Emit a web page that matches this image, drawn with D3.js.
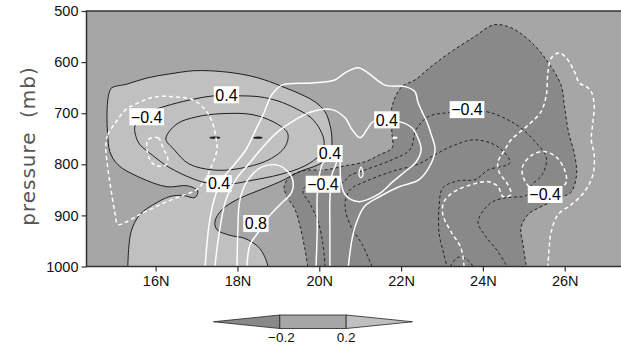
<!DOCTYPE html>
<html>
<head>
<meta charset="utf-8">
<script src="https://cdn.jsdelivr.net/npm/d3@7"></script>
<style>
  body { margin: 0; background: #fff; }
  svg { display: block; }
</style>
</head>
<body>
<div id="chart"></div>
<script>
// axis ticks
var xTicks = [16, 18, 20, 22, 24, 26];
var yTicks = [500, 600, 700, 800, 900, 1000];
var legendLevels = [-0.2, 0.2];
var shadeColors = ["#898989", "#a6a6a6", "#c0c0c0"];

// shaded > 0.2 (outline, bottom edge sits on 1000 mb)
var lightRegion = [[15.32,1000],[15.40,932],[15.62,898],[16.03,875],[16.35,863],[16.67,861],[16.96,865],[17.03,852],
  [16.77,842],[16.28,844],[15.62,826],[15.08,801],[14.88,775],[14.83,742],[14.81,713],[14.83,674],[14.88,656],
  [14.93,650],[15.30,643],[15.79,631],[16.35,623],[16.91,617],[17.33,617],[17.89,621],[18.31,627],[18.67,635],
  [19.16,650],[19.58,664],[19.90,678],[20.14,697],[20.26,723],[20.31,752],[20.26,785],[19.97,801],[19.53,814],
  [19.04,834],[18.43,854],[17.99,869],[17.62,889],[17.45,912],[17.50,928],[17.82,939],[18.18,945],[18.50,961],
  [18.65,978],[18.75,1000]];

// shaded < -0.2
var darkRegion = [[19.72,1000],[19.65,967],[19.55,928],[19.41,889],[19.21,863],[19.14,844],[19.28,824],[19.65,812],
  [20.14,811],[20.63,803],[21.12,795],[21.48,781],[21.78,768],[21.78,742],[21.75,703],[21.83,674],[22.02,648],
  [22.34,635],[22.73,609],[23.22,580],[23.78,551],[24.27,527],[24.69,533],[25.18,561],[25.59,600],[25.91,645],
  [25.99,684],[26.09,736],[26.24,781],[26.29,820],[26.16,854],[25.96,863],[25.42,883],[25.11,898],[24.93,924],
  [24.98,957],[25.06,1000]];

// black contours
var pos04 = [[15.52,746],[15.49,727],[15.62,709],[15.86,697],[16.25,686],[16.84,674],[17.43,666],[18.06,666],
  [18.55,668],[18.99,676],[19.43,691],[19.80,709],[20.02,732],[20.12,758],[20.02,781],[19.65,803],[19.04,820],
  [18.31,832],[17.87,838],[17.23,836],[16.84,826],[16.35,807],[16.06,791],[15.81,775],[15.62,762]];
var pos06 = [[16.25,750],[16.52,721],[17.01,707],[17.60,701],[18.38,703],[18.97,721],[19.23,740],[19.16,766],
  [18.77,791],[17.99,809],[17.40,811],[16.81,799],[16.45,771]];
var pos08a = [[17.33,748],[17.45,747],[17.57,748],[17.45,749]];
var pos08b = [[18.40,748],[18.50,747],[18.60,748],[18.50,749]];
var neg04 = [[20.14,1000],[20.09,957],[19.97,912],[19.77,877],[19.60,854],[19.68,842],[20.53,838],[20.75,822],
  [21.12,811],[21.78,791],[22.22,771],[22.37,732],[22.66,707],[23.15,699],[24.08,697],[24.61,713],[24.93,729],
  [25.28,756],[25.55,787],[25.45,820],[25.15,844],[25.06,861],[24.61,865],[24.20,875],[23.88,912],[24.03,937],
  [24.37,971],[24.59,1000]];
var neg06 = [[21.29,1000],[21.05,957],[20.75,918],[20.63,879],[20.75,850],[21.12,834],[21.78,814],[22.44,799],
  [22.83,781],[23.32,762],[23.81,752],[24.37,766],[24.66,797],[24.13,811],[23.81,830],[23.42,832],[23.02,846],
  [22.93,883],[22.93,936],[23.05,977],[23.12,1000]];
var neg08 = [[23.20,1000],[23.39,982],[23.61,986],[23.76,1000]];

// white contours
var whiteOuter = [[17.21,1000],[17.30,922],[17.43,869],[17.62,830],[17.92,801],[18.21,771],[18.45,732],[18.65,699],
  [18.84,664],[19.09,645],[19.82,641],[20.38,635],[20.63,621],[20.95,611],[21.19,621],[21.61,645],[22.10,648],
  [22.34,658],[22.41,678],[22.51,697],[22.63,717],[22.73,740],[22.83,771],[22.73,799],[22.44,830],[21.95,844],
  [21.48,863],[21.10,883],[20.90,916],[20.80,947],[20.71,1000]];
var whiteInner = [[17.45,1000],[17.55,936],[17.72,869],[17.96,830],[18.26,801],[18.60,768],[18.99,736],[19.41,713],
  [19.82,697],[20.31,693],[20.63,709],[20.80,732],[21.00,748],[21.19,729],[21.31,717],[21.97,717],[22.27,729],
  [22.41,748],[22.49,771],[22.37,795],[22.10,814],[21.80,834],[21.44,859],[20.95,873],[20.63,859],[20.53,834],
  [20.51,795]];
var whiteNarrow = [[19.92,1000],[19.95,928],[19.95,859],[20.02,814],[20.12,795],[20.41,795],[20.31,820],
  [20.26,869],[20.26,928],[20.26,1000]];
var white08 = [[17.99,1000],[18.01,928],[18.06,869],[18.26,830],[18.60,805],[19.04,803],[19.33,826],[19.33,854],
  [19.04,879],[18.75,904],[18.50,934],[18.31,957],[18.23,1000]];
var whiteDrop = [[21.02,805],[21.07,820],[21.02,826],[20.97,820]];
var whiteDash = [[21.80,748],[21.85,747],[21.90,748],[21.85,749]];
var whiteNegWest = [[14.78,766],[14.83,742],[14.98,723],[15.27,693],[15.62,678],[15.98,668],[16.47,668],[16.91,674],
  [17.21,693],[17.38,717],[17.47,746],[17.50,771],[17.38,801],[17.21,830],[16.99,850],[16.59,863],[16.11,879],
  [15.62,898],[15.25,914],[15.08,918],[15.00,893],[14.91,850],[14.83,807]];
var whiteNegWestIn = [[15.81,752],[16.06,748],[16.18,768],[16.30,791],[16.25,801],[16.01,803],[15.86,791],[15.79,771]];
var whiteNegEast = [[23.54,1000],[23.46,963],[23.22,932],[23.02,898],[23.05,873],[23.29,854],[23.71,840],[24.13,834],
  [24.37,844],[24.49,863],[24.69,859],[24.61,840],[24.39,814],[24.37,795],[24.54,771],[24.69,752],[25.11,723],
  [25.42,697],[25.55,664],[25.59,619],[25.67,592],[25.86,582],[26.04,592],[26.24,619],[26.36,641],[26.53,648],
  [26.65,658],[26.72,684],[26.69,717],[26.65,752],[26.72,781],[26.69,820],[26.48,854],[26.16,879],[25.84,898],
  [25.67,932],[25.62,963],[25.59,1000]];
var whiteNegEastSmall = [[25.13,844],[25.01,830],[24.96,807],[25.18,783],[25.49,775],[25.81,787],[26.01,814],
  [26.04,834],[25.94,846]];

// contour labels: lat, pressure, text
var contourLabels = [
  [17.73, 664, "0.4"], [15.78, 707, "\u22120.4"], [17.55, 838, "0.4"], [21.65, 713, "0.4"],
  [20.26, 779, "0.4"], [20.09, 839, "\u22120.4"], [18.45, 916, "0.8"], [23.61, 693, "\u22120.4"],
  [25.52, 859, "\u22120.4"]
];

function drawChart() {
  var W = 621, H = 350;
  var svg = d3.select("#chart").append("svg")
    .attr("width", W).attr("height", H);

  var x = d3.scaleLinear().domain([14.31, 27.4]).range([86.5, 622]);
  var y = d3.scaleLinear().domain([500, 1000]).range([11, 266.5]);

  var open = d3.line().x(d => x(d[0])).y(d => y(d[1])).curve(d3.curveCatmullRom.alpha(0.5));
  var closed = d3.line().x(d => x(d[0])).y(d => y(d[1])).curve(d3.curveCatmullRomClosed.alpha(0.5));

  svg.append("clipPath").attr("id", "plotclip")
    .append("rect")
    .attr("x", x.range()[0]).attr("y", y.range()[0])
    .attr("width", x.range()[1] - x.range()[0]).attr("height", y.range()[1] - y.range()[0]);

  var plot = svg.append("g").attr("clip-path", "url(#plotclip)");

  // background shade (-0.2 .. 0.2)
  plot.append("rect")
    .attr("x", x.range()[0]).attr("y", y.range()[0])
    .attr("width", x.range()[1] - x.range()[0]).attr("height", y.range()[1] - y.range()[0])
    .attr("fill", shadeColors[1]);

  plot.append("path").attr("d", open(lightRegion) + "Z").attr("fill", shadeColors[2]);
  plot.append("path").attr("d", open(darkRegion) + "Z").attr("fill", shadeColors[0]);

  // black contours
  var blackSolidOpen = [lightRegion];
  var blackSolidClosed = [pos04, pos06];
  var blackDashOpen = [darkRegion, neg04, neg06, neg08];

  blackSolidOpen.forEach(function(c) {
    plot.append("path").attr("d", open(c)).attr("fill", "none")
      .attr("stroke", "#1e1e1e").attr("stroke-width", 1);
  });
  blackSolidClosed.forEach(function(c) {
    plot.append("path").attr("d", closed(c)).attr("fill", "none")
      .attr("stroke", "#1e1e1e").attr("stroke-width", 1);
  });
  // tiny closed centres, drawn as short strokes
  [pos08a, pos08b].forEach(function(c) {
    plot.append("path").attr("d", closed(c)).attr("fill", "#1e1e1e")
      .attr("stroke", "#1e1e1e").attr("stroke-width", 1.2);
  });
  blackDashOpen.forEach(function(c) {
    plot.append("path").attr("d", open(c)).attr("fill", "none")
      .attr("stroke", "#222").attr("stroke-width", 1)
      .attr("stroke-dasharray", "3,2.5");
  });

  // white contours
  [whiteOuter, whiteInner, whiteNarrow, white08].forEach(function(c) {
    plot.append("path").attr("d", open(c)).attr("fill", "none")
      .attr("stroke", "#fff").attr("stroke-width", 1.5);
  });
  [whiteDrop, whiteDash].forEach(function(c) {
    plot.append("path").attr("d", closed(c)).attr("fill", "none")
      .attr("stroke", "#fff").attr("stroke-width", 1.3);
  });
  [whiteNegWest, whiteNegWestIn].forEach(function(c) {
    plot.append("path").attr("d", closed(c)).attr("fill", "none")
      .attr("stroke", "#fff").attr("stroke-width", 1.5).attr("stroke-dasharray", "4,3");
  });
  [whiteNegEast, whiteNegEastSmall].forEach(function(c) {
    plot.append("path").attr("d", open(c)).attr("fill", "none")
      .attr("stroke", "#fff").attr("stroke-width", 1.5).attr("stroke-dasharray", "4,3");
  });

  // contour labels with white boxes
  var labG = svg.append("g");
  contourLabels.forEach(function(l) {
    var g = labG.append("g").attr("transform", "translate(" + x(l[0]) + "," + y(l[1]) + ")");
    var t = g.append("text")
      .attr("text-anchor", "middle").attr("dy", "0.36em")
      .style("font-family", "Liberation Sans, Arial, sans-serif")
      .style("font-size", "16px").style("fill", "#000")
      .text(l[2]);
    var b = t.node().getBBox();
    g.insert("rect", "text")
      .attr("x", b.x - 1.5).attr("y", -8.5)
      .attr("width", b.width + 3).attr("height", 17)
      .attr("fill", "#fff");
  });

  // frame
  svg.append("rect")
    .attr("x", x.range()[0]).attr("y", y.range()[0])
    .attr("width", x.range()[1] - x.range()[0]).attr("height", y.range()[1] - y.range()[0])
    .attr("fill", "none").attr("stroke", "#333").attr("stroke-width", 1.5);

  // axes
  var xAxis = svg.append("g")
    .attr("transform", "translate(0," + y.range()[1] + ")")
    .call(d3.axisBottom(x).tickValues(xTicks).tickSize(5).tickPadding(4).tickFormat(d => d + "N"));
  var yAxis = svg.append("g")
    .attr("transform", "translate(" + x.range()[0] + ",0)")
    .call(d3.axisLeft(y).tickValues(yTicks).tickSize(5).tickPadding(3).tickFormat(d3.format("d")));
  [xAxis, yAxis].forEach(function(a) {
    a.select(".domain").remove();
    a.selectAll("line").attr("stroke", "#333").attr("stroke-width", 1.2);
    a.selectAll("text")
      .style("font-family", "Liberation Sans, Arial, sans-serif")
      .style("font-size", "14.5px").style("fill", "#111");
  });

  svg.append("text")
    .attr("transform", "translate(35,146) rotate(-90)")
    .attr("text-anchor", "middle")
    .style("font-family", "DejaVu Sans, sans-serif")
    .style("font-size", "20px").style("letter-spacing", "1px").style("word-spacing", "6px")
    .style("fill", "#555")
    .text("pressure (mb)");

  // colour bar
  var lx = d3.scaleLinear().domain([-0.6, 0.6]).range([213.5, 412.5]);
  var ly0 = 315, ly1 = 328.5, lym = (ly0 + ly1) / 2;
  var leg = svg.append("g");
  leg.append("path")
    .attr("d", "M" + lx(-0.6) + "," + lym + "L" + lx(legendLevels[0]) + "," + ly0 + "L" + lx(legendLevels[0]) + "," + ly1 + "Z")
    .attr("fill", shadeColors[0]).attr("stroke", "#222").attr("stroke-width", 0.8);
  leg.append("rect")
    .attr("x", lx(legendLevels[0])).attr("y", ly0)
    .attr("width", lx(legendLevels[1]) - lx(legendLevels[0])).attr("height", ly1 - ly0)
    .attr("fill", shadeColors[1]).attr("stroke", "#222").attr("stroke-width", 0.8);
  leg.append("path")
    .attr("d", "M" + lx(0.6) + "," + lym + "L" + lx(legendLevels[1]) + "," + ly0 + "L" + lx(legendLevels[1]) + "," + ly1 + "Z")
    .attr("fill", shadeColors[2]).attr("stroke", "#222").attr("stroke-width", 0.8);
  leg.selectAll("text.lev")
    .data(legendLevels)
    .enter().append("text")
    .attr("class", "lev")
    .attr("x", d => lx(d) + (d < 0 ? 1.5 : 0))
    .attr("y", 342)
    .attr("text-anchor", "middle")
    .style("font-family", "Liberation Sans, Arial, sans-serif")
    .style("font-size", "13.5px").style("fill", "#111")
    .text(d => d < 0 ? "\u2212" + Math.abs(d).toFixed(1) : d.toFixed(1));
}

drawChart();
</script>
</body>
</html>
